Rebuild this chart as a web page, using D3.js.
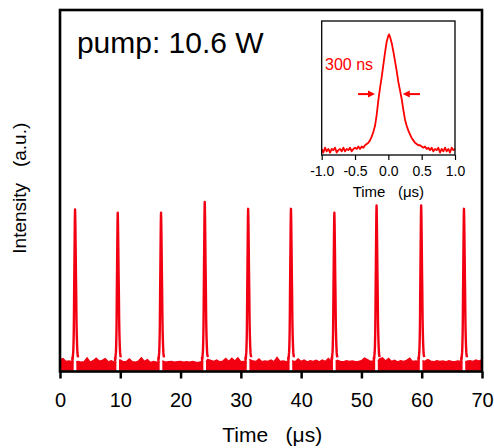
<!DOCTYPE html>
<html>
<head>
<meta charset="utf-8">
<script src="https://cdn.jsdelivr.net/npm/d3@7"></script>
<style>
  body { margin: 0; background: #fff; }
  text { font-family: "Liberation Sans", Arial, sans-serif; white-space: pre; }
</style>
</head>
<body>
<svg id="chart"></svg>
<script>
// pulse train, main panel
var pulseTimes = [2.49, 9.57, 16.75, 24.0, 31.2, 38.3, 45.5, 52.5, 59.9, 67.0];
var pulseHeights = [44.8, 43.9, 43.9, 46.9, 45.0, 45.0, 43.9, 45.9, 45.9, 45.0];
// top of the noisy baseline, one value every 0.5 us from 0 to 70
var baseTop = [
  3.3, 3.6, 2.8, 2.9, 2.7, 2.7, 2.8, 2.6, 2.7, 3.8,
  2.6, 3.0, 3.7, 2.9, 3.1, 3.6, 2.7, 3.0, 2.6, 2.7,
  3.2, 2.7, 2.8, 3.5, 2.7, 2.6, 2.9, 3.8, 2.8, 3.3,
  2.5, 2.8, 2.6, 2.7, 2.9, 2.6, 2.7, 2.8, 2.6, 2.7,
  2.8, 2.6, 2.7, 2.6, 2.8, 2.6, 2.5, 2.8, 2.7, 3.4,
  3.1, 2.8, 3.2, 2.7, 2.9, 3.6, 2.8, 3.7, 2.9, 3.8,
  2.7, 2.8, 2.7, 3.3, 2.9, 2.8, 3.5, 2.7, 2.9, 2.8,
  3.2, 2.7, 3.9, 2.8, 2.9, 2.7, 2.8, 3.0, 2.7, 3.5,
  2.8, 3.2, 2.7, 3.0, 2.8, 3.1, 2.7, 3.2, 2.8, 3.6,
  2.9, 2.8, 3.1, 2.8, 2.7, 3.0, 2.8, 2.9, 2.7, 2.8,
  3.0, 3.7, 3.3, 2.8, 2.9, 2.8, 3.5, 3.8, 2.9, 3.6,
  2.8, 3.1, 2.7, 3.0, 2.8, 3.1, 3.7, 2.8, 2.9, 2.8,
  3.0, 2.8, 3.3, 2.9, 2.7, 3.0, 2.8, 2.9, 2.7, 3.0,
  2.8, 2.7, 2.9, 2.8, 2.7, 2.9, 3.0, 2.8, 3.2, 2.9,
  3.3
];
var baseStep = 0.5;
var baseLevel = 2.6;
var xTicks = [0, 10, 20, 30, 40, 50, 60, 70];

// single pulse, inset
var insetT = [
  -1.0, -0.975, -0.95, -0.925, -0.9, -0.875, -0.85, -0.825, -0.8, -0.775,
  -0.75, -0.725, -0.7, -0.675, -0.65, -0.625, -0.6, -0.575, -0.55, -0.525,
  -0.5, -0.475, -0.45, -0.425, -0.4, -0.375, -0.35, -0.325, -0.3, -0.275,
  -0.25, -0.225, -0.2, -0.175, -0.15, -0.125, -0.1, -0.075, -0.05, -0.025,
  0.0, 0.01, 0.025, 0.05, 0.075, 0.1, 0.125, 0.15, 0.175, 0.2,
  0.225, 0.25, 0.275, 0.3, 0.325, 0.35, 0.375, 0.4, 0.425, 0.45,
  0.475, 0.5, 0.525, 0.55, 0.575, 0.6, 0.625, 0.65, 0.675, 0.7,
  0.725, 0.75, 0.775, 0.8, 0.825, 0.85, 0.875, 0.9, 0.925, 0.95,
  0.975, 1.0
];
var insetV = [
  0.05, 0.02, 0.06, 0.03, 0.05, 0.02, 0.05, 0.04, 0.06, 0.02,
  0.04, 0.05, 0.03, 0.06, 0.03, 0.05, 0.04, 0.06, 0.03, 0.05,
  0.06, 0.05, 0.07, 0.05, 0.07, 0.06, 0.08, 0.09, 0.10, 0.12,
  0.15, 0.19, 0.24, 0.33, 0.45, 0.55, 0.64, 0.74, 0.84, 0.93,
  0.98, 0.99, 0.97, 0.92, 0.85, 0.77, 0.69, 0.60, 0.53, 0.46,
  0.37, 0.29, 0.24, 0.20, 0.17, 0.14, 0.12, 0.10, 0.09, 0.08,
  0.08, 0.07, 0.06, 0.07, 0.05, 0.06, 0.04, 0.06, 0.03, 0.05,
  0.04, 0.06, 0.02, 0.05, 0.03, 0.06, 0.03, 0.05, 0.02, 0.06,
  0.04, 0.05
];
var insetTicks = [-1, -0.5, 0, 0.5, 1];
var insetBase = 0.04, insetPeak = 0.99;
// FWHM marker arrows, in inset data units
var fwhmArrows = [
  {from: -0.455, to: -0.2, v: 0.5},
  {from: 0.475, to: 0.216, v: 0.5}
];

var red = '#f20012';

var draw = function(){
  var svg = d3.select('#chart')
  .attr('width', 494)
  .attr('height', 448);

  svg.append('rect').attr('width', 494).attr('height', 448).attr('fill', '#fff');

  var x = d3.scaleLinear().domain([0, 70]).range([60, 482]);
  var y = d3.scaleLinear().domain([0, 100]).range([371.5, 10]);

  // baseline band, cut under each pulse
  var bounds = [0].concat(pulseTimes).concat([70]);
  var nearest = function(t){
    var i = Math.max(0, Math.min(baseTop.length - 1, Math.round(t / baseStep)));
    return baseTop[i];
  };
  var segments = [];
  for(let k = 0; k < bounds.length - 1; k++){
    let a = k === 0 ? 0 : bounds[k] + 0.22;
    let b = k === bounds.length - 2 ? 70 : bounds[k+1] - 0.22;
    let pts = [[a, nearest(a)]];
    baseTop.forEach((v, i) => {
      let t = i * baseStep;
      if(t > a && t < b) pts.push([t, v]);
    });
    pts.push([b, nearest(b)]);
    segments.push(pts);
  }

  var band = d3.area()
  .x(d => x(d[0]))
  .y0(y(0.2))
  .y1(d => y(d[1]));
  var bandTop = d3.line().x(d => x(d[0])).y(d => y(d[1]));

  var g = svg.append('g');
  g.selectAll('path.band')
  .data(segments)
  .enter().append('path')
  .attr('class', 'band')
  .attr('d', band)
  .attr('fill', red);
  g.selectAll('path.bandtop')
  .data(segments)
  .enter().append('path')
  .attr('class', 'bandtop')
  .attr('d', bandTop)
  .attr('fill', 'none')
  .attr('stroke', red)
  .attr('stroke-width', 1.3);

  // pulses use the inset profile
  var pulses = pulseTimes.map((tc, i) => {
    var h = pulseHeights[i];
    var pts = [];
    insetT.forEach((dt, j) => {
      if(dt < -0.45 || dt > 0.5) return;
      var p = Math.max(0, (insetV[j] - insetBase) / (insetPeak - insetBase));
      pts.push([tc + dt, baseLevel + (h - baseLevel) * p]);
    });
    return pts;
  });
  g.selectAll('path.pulse')
  .data(pulses)
  .enter().append('path')
  .attr('class', 'pulse')
  .attr('d', d3.line().x(d => x(d[0])).y(d => y(d[1])))
  .attr('fill', 'none')
  .attr('stroke', red)
  .attr('stroke-width', 2.4)
  .attr('stroke-linejoin', 'round');

  // frame + axis
  svg.append('rect')
  .attr('x', x(0)).attr('y', y(100))
  .attr('width', x(70) - x(0)).attr('height', y(0) - y(100))
  .attr('fill', 'none').attr('stroke', '#000').attr('stroke-width', 2.6);

  var xAxis = svg.append('g')
  .attr('transform', 'translate(0,' + y(0) + ')')
  .call(d3.axisBottom(x).tickValues(xTicks).tickSize(7).tickFormat(d3.format('d')));
  xAxis.select('.domain').remove();
  xAxis.selectAll('line').attr('stroke', '#000').attr('stroke-width', 2.5);
  xAxis.selectAll('text')
  .attr('y', 35).attr('dy', null)
  .attr('fill', '#000')
  .style('font-size', '20px');

  svg.append('text')
  .attr('x', x(35.2)).attr('y', 442)
  .attr('text-anchor', 'middle')
  .style('font-size', '21px')
  .text('Time   (\u03bcs)');

  svg.append('text')
  .attr('transform', 'translate(26,' + y(50.7) + ') rotate(-90)')
  .attr('text-anchor', 'middle')
  .style('font-size', '19px')
  .text('Intensity   (a.u.)');

  svg.append('text')
  .attr('x', x(2.8)).attr('y', y(88.1))
  .style('font-size', '30px')
  .text('pump: 10.6 W');

  // inset
  var xi = d3.scaleLinear().domain([-1, 1]).range([321.7, 455]);
  var yi = d3.scaleLinear().domain([0, 1.1]).range([155, 21]);
  var inset = svg.append('g');

  inset.append('path')
  .datum(insetT.map((t, i) => [t, insetV[i]]))
  .attr('d', d3.line().x(d => xi(d[0])).y(d => yi(d[1])))
  .attr('fill', 'none')
  .attr('stroke', '#ff0000')
  .attr('stroke-width', 1.8)
  .attr('stroke-linejoin', 'round');

  inset.append('rect')
  .attr('x', xi(-1)).attr('y', yi(1.1))
  .attr('width', xi(1) - xi(-1)).attr('height', yi(0) - yi(1.1))
  .attr('fill', 'none').attr('stroke', '#000').attr('stroke-width', 1.3);

  var iAxis = inset.append('g')
  .attr('transform', 'translate(0,' + yi(0) + ')')
  .call(d3.axisBottom(xi).tickValues(insetTicks).tickSize(5).tickFormat(d => d.toFixed(1)));
  iAxis.select('.domain').remove();
  iAxis.selectAll('line').attr('stroke', '#000').attr('stroke-width', 1.2);
  iAxis.selectAll('text')
  .attr('y', 21).attr('dy', null)
  .attr('fill', '#000')
  .style('font-size', '14px');

  inset.append('text')
  .attr('x', xi(0)).attr('y', 196.5)
  .attr('text-anchor', 'middle')
  .style('font-size', '15px')
  .text('Time   (\u03bcs)');

  inset.append('text')
  .attr('x', xi(-0.95)).attr('y', yi(0.70))
  .attr('fill', '#ff0000')
  .style('font-size', '16px')
  .text('300 ns');

  fwhmArrows.forEach(a => {
    var x0 = xi(a.from), x1 = xi(a.to), yy = yi(a.v);
    var dir = x1 > x0 ? 1 : -1;
    inset.append('line')
    .attr('x1', x0).attr('y1', yy)
    .attr('x2', x1 - dir * 5).attr('y2', yy)
    .attr('stroke', '#ff0000').attr('stroke-width', 2);
    inset.append('path')
    .attr('d', 'M' + x1 + ',' + yy + 'L' + (x1 - dir * 7) + ',' + (yy - 3.5) + 'L' + (x1 - dir * 7) + ',' + (yy + 3.5) + 'Z')
    .attr('fill', '#ff0000');
  });
};

draw();
</script>
</body>
</html>
